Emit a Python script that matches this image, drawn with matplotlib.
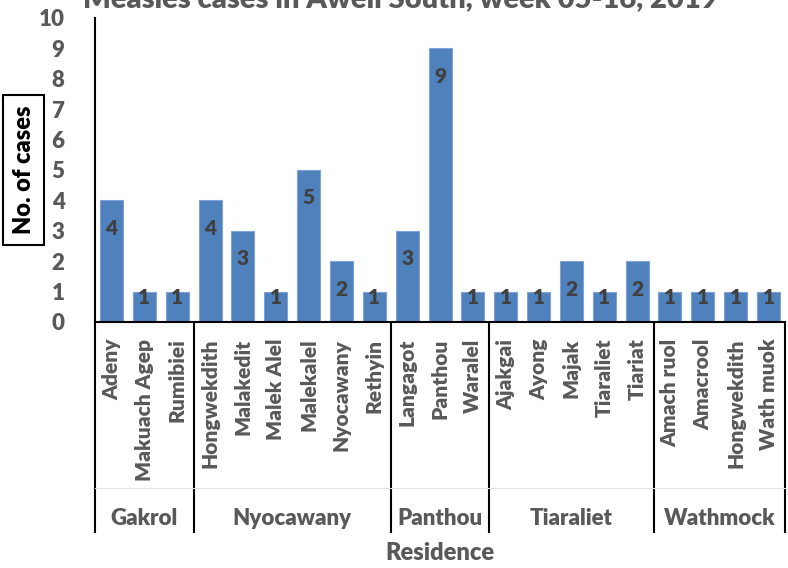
import matplotlib.pyplot as plt
import matplotlib.transforms as mtransforms
from matplotlib.patches import Rectangle

plt.rcParams['font.family'] = ['Lato', 'DejaVu Sans']

# residence (village) names, grouped by payam
groups = ['Gakrol', 'Nyocawany', 'Panthou', 'Tiaraliet', 'Wathmock']
villages = [
    ['Adeny', 'Makuach Agep', 'Rumibiei'],
    ['Hongwekdith', 'Malakedit', 'Malek Alel', 'Malekalel', 'Nyocawany', 'Rethyin'],
    ['Langagot', 'Panthou', 'Waralel'],
    ['Ajakgai', 'Ayong', 'Majak', 'Tiaraliet', 'Tiariat'],
    ['Amach ruol', 'Amacrool', 'Hongwekdith', 'Wath muok'],
]
cases = [
    [4, 1, 1],
    [4, 3, 1, 5, 2, 1],
    [3, 9, 1],
    [1, 1, 2, 1, 2],
    [1, 1, 1, 1],
]

labels = [v for g in villages for v in g]
values = [c for g in cases for c in g]
x = list(range(len(labels)))

tick_col = '#595959'
bar_col = '#4F81BD'
W = 'heavy'

fig = plt.figure(figsize=(7.88, 5.68), dpi=100)
ax = fig.add_axes([95/788, 1 - 322/568, 690/788, 304/568])

ax.bar(x, values, width=0.7, color=bar_col, edgecolor='#7FA3D6', linewidth=0.8, zorder=2)

# data labels inside end
for xi, v in zip(x, values):
    y = v - 0.92 if v > 1 else v - 0.2
    ax.text(xi, y, str(v), ha='center', va='center', fontsize=15,
            fontweight=W, color='#404040', zorder=3)

ax.set_xlim(-0.5, len(labels) - 0.5)
ax.set_ylim(0, 10)
ax.set_yticks(range(0, 11))
ax.tick_params(axis='y', length=0, pad=22, labelsize=16, labelcolor=tick_col)
for t in ax.get_yticklabels():
    t.set_fontweight(W)

ax.set_xticks(x)
ax.set_xticklabels(labels, rotation=90, fontsize=15, fontweight=W, color=tick_col)
ax.tick_params(axis='x', length=0, pad=12)

for s in ['top', 'right']:
    ax.spines[s].set_visible(False)
ax.spines['left'].set_linewidth(1.5)
ax.spines['bottom'].set_linewidth(1.5)
ax.spines['left'].set_color('black')
ax.spines['bottom'].set_color('black')

# group separators and group labels below the axis
trans = mtransforms.blended_transform_factory(ax.transData, ax.transAxes)
sizes = [len(g) for g in villages]
start = 0
bounds = [-0.5]
for g, n in zip(groups, sizes):
    centre = start + (n - 1) / 2
    ax.text(centre, -0.648, g, transform=trans, ha='center', va='center',
            fontsize=16, fontweight=W, color=tick_col, clip_on=False)
    start += n
    bounds.append(start - 0.5)
for b in bounds:
    ax.plot([b, b], [0, -0.694], transform=trans, color='black', lw=1.5,
            clip_on=False, solid_capstyle='butt')
ax.plot([-0.5, len(labels) - 0.5], [-0.546, -0.546], transform=trans,
        color='#E4E4E4', lw=0.8, clip_on=False)

fig.text(440/788, 1 - 553/568, 'Residence', ha='center', va='center',
         fontsize=17, fontweight=W, color=tick_col)

fig.text(400/788, 1 - 7/568, 'Measles cases in Aweil South, week 05-16, 2019',
         ha='center', va='baseline', fontsize=21, fontweight=W, color=tick_col)

# y label inside a box
fig.text(24/788, 1 - 170/568, 'No. of cases', rotation=90, ha='center', va='center',
         fontsize=17, fontweight=W, color='black')
fig.add_artist(Rectangle((3/788, 1 - 245/568), 41/788, 150/568,
                         transform=fig.transFigure, fill=False, edgecolor='black', lw=1.5))

fig.savefig('out.png', dpi=100)
